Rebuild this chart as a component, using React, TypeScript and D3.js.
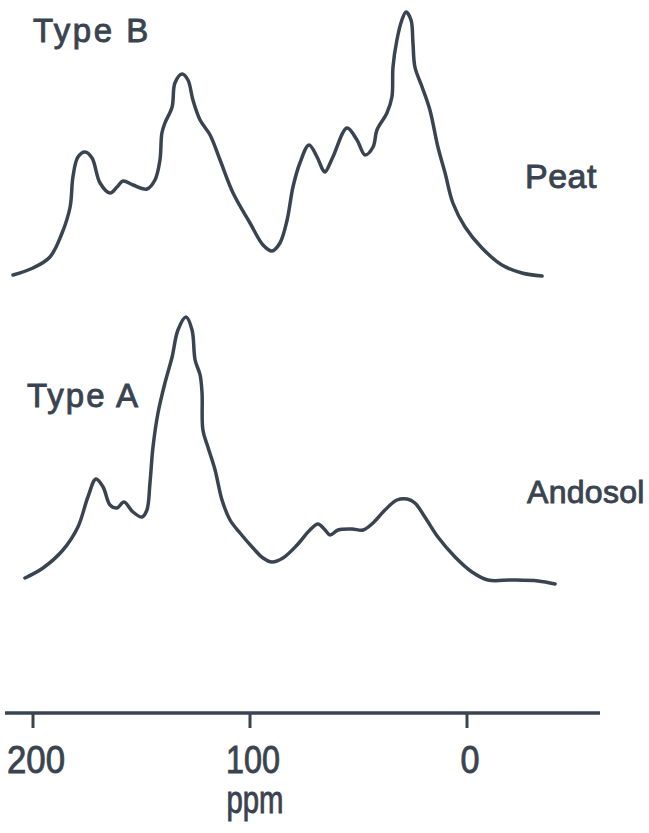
import React from "react";
import * as d3 from "d3";

// Chemical shift (ppm) and relative intensity (arbitrary units above baseline)
const peatPpm = [209.2, 200, 192.2, 186.6, 182.9, 181.6, 179.3, 176.0, 172.8, 169.1, 164.5, 161.3, 158.5, 153.9, 147.5, 143.8, 141.5, 140.6, 139.2, 135.9, 134.6, 131.3, 128.6, 126.3, 123.0, 118.4, 113.8, 107.8, 100.0, 94.0, 89.9, 86.2, 82.9, 80.2, 77.0, 72.8, 69.1, 66.4, 65.4, 61.8, 55.3, 50.7, 47.0, 43.3, 41.5, 36.9, 34.6, 34.1, 32.3, 30.0, 28.1, 25.8, 24.9, 24.0, 20.7, 17.1, 13.4, 10.1, 6.5, 0.9, -6.9, -16.1, -25.3, -34.6];
const peatInt = [1, 8, 19, 43, 69, 99, 119, 124, 118, 93, 83, 89, 95, 91, 87, 96, 116, 143, 153, 169, 193, 202, 196, 176, 156, 141, 116, 83, 53, 31, 25, 33, 56, 89, 113, 131, 119, 106, 104, 119, 148, 136, 121, 129, 146, 163, 179, 209, 236, 256, 264, 256, 233, 209, 189, 166, 129, 103, 73, 49, 28, 11, 3, 0];

const andosolPpm = [203.7, 195.4, 186.2, 179.3, 174.7, 171.0, 167.7, 164.5, 161.3, 158.1, 153.9, 149.8, 147.5, 146.1, 144.7, 142.4, 139.2, 135.9, 133.2, 129.5, 126.7, 125.3, 123.0, 122.1, 121.7, 119.4, 116.1, 112.9, 109.2, 104.6, 98.6, 94.0, 89.9, 84.8, 78.3, 72.4, 68.7, 65.4, 63.1, 59.4, 53.0, 47.9, 43.3, 37.8, 32.3, 27.6, 24.0, 19.4, 13.4, 5.5, -2.3, -9.7, -20.7, -32.7, -40.6];
const andosolInt = [6, 16, 34, 57, 87, 105, 97, 79, 76, 82, 72, 67, 74, 101, 137, 171, 201, 227, 254, 267, 254, 224, 209, 191, 154, 137, 114, 84, 64, 51, 36, 26, 22, 26, 39, 54, 60, 54, 49, 54, 55, 54, 61, 74, 84, 85, 81, 67, 47, 27, 12, 4, 4, 3, 0];

const tickValues = [200, 100, 0];
const axisTitle = "ppm";
const spectra = [
  { name: "Peat", type: "Type B" },
  { name: "Andosol", type: "Type A" },
];

const INK = "#3a4450";
const FONT = "'Liberation Sans', Arial, sans-serif";

export default function App() {
  const x = d3.scaleLinear().domain([200, 0]).range([33, 467]);
  const yPeat = d3.scaleLinear().domain([0, 264]).range([276, 12]);
  const yAnd = d3.scaleLinear().domain([0, 267]).range([584, 317]);

  const line = (ppm: number[], ints: number[], y: d3.ScaleLinear<number, number>) =>
    d3
      .line<number>()
      .x((_, i) => x(ppm[i]))
      .y((v) => y(v))
      .curve(d3.curveCatmullRom.alpha(0.5))(ints) || "";

  const axisY = 713;
  const labelWidths: Record<number, number> = { 200: 58, 100: 54, 0: 19 };
  const textStyle = { fontFamily: FONT, fill: INK, stroke: INK, strokeWidth: 0.9 } as const;

  return (
    <svg
      width={649}
      height={833}
      viewBox="0 0 649 833"
      style={{ position: "absolute", left: 0, top: 0, background: "#fff" }}
    >
      <rect width={649} height={833} fill="#fff" />
      <path d={line(peatPpm, peatInt, yPeat)} fill="none" stroke={INK} strokeWidth={3.5} strokeLinejoin="round" strokeLinecap="round" />
      <path d={line(andosolPpm, andosolInt, yAnd)} fill="none" stroke={INK} strokeWidth={3.5} strokeLinejoin="round" strokeLinecap="round" />

      <text x={33} y={42} fontSize={33} letterSpacing={2.5} {...textStyle}>{spectra[0].type}</text>
      <text x={525} y={188} fontSize={34} letterSpacing={0.5} {...textStyle}>{spectra[0].name}</text>
      <text x={27} y={407} fontSize={33} letterSpacing={2} {...textStyle}>{spectra[1].type}</text>
      <text x={527} y={503} fontSize={32} letterSpacing={0.3} {...textStyle}>{spectra[1].name}</text>

      {/* axis */}
      <line x1={5} x2={600} y1={axisY} y2={axisY} stroke={INK} strokeWidth={3.5} />
      {tickValues.map((t) => (
        <g key={t}>
          <line x1={x(t)} x2={x(t)} y1={axisY} y2={axisY + 15} stroke={INK} strokeWidth={3} />
          <text
            x={x(t) + 3}
            y={773}
            fontSize={38}
            textAnchor="middle"
            textLength={labelWidths[t]}
            lengthAdjust="spacingAndGlyphs"
            {...textStyle}
          >
            {t}
          </text>
        </g>
      ))}
      <text
        x={255}
        y={813}
        fontSize={38}
        textAnchor="middle"
        textLength={57}
        lengthAdjust="spacingAndGlyphs"
        {...textStyle}
      >
        {axisTitle}
      </text>
    </svg>
  );
}
